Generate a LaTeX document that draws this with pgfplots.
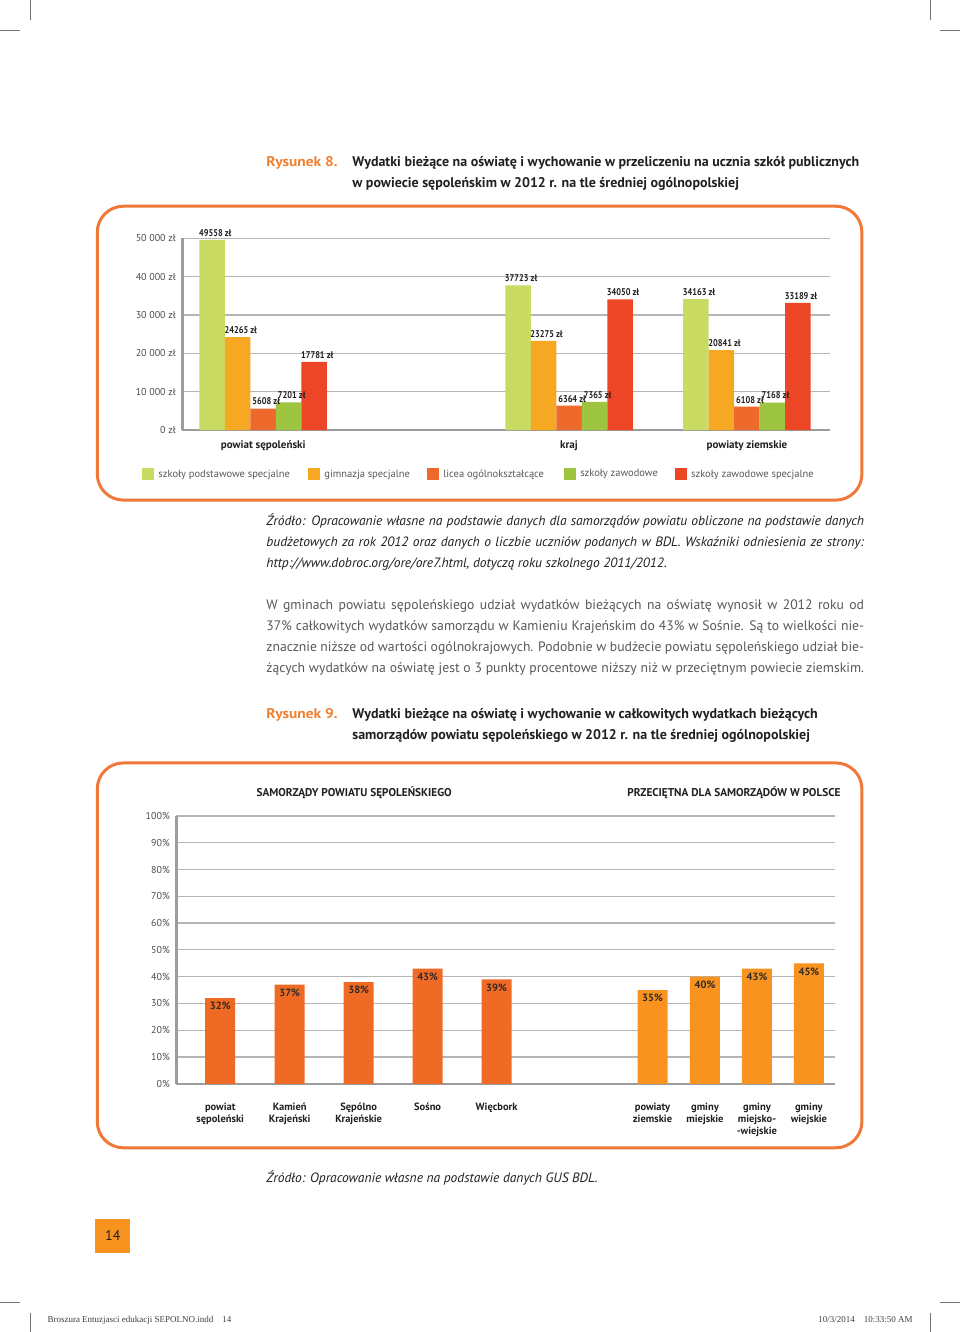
\documentclass[border=0pt]{standalone}
\usepackage{graphicx}
\usepackage{pgfplots}
\pgfplotsset{compat=1.18}
\usepackage{fontspec}
\setmainfont{PT Sans}
\newfontfamily\condfont[FakeStretch=0.85]{PT Sans}
\newfontfamily\serffont{Liberation Serif}
\definecolor{cGreenL}{HTML}{C9DB62}
\definecolor{cOrange}{HTML}{F7A823}
\definecolor{cDkOr}{HTML}{EE6A2C}
\definecolor{cGreen}{HTML}{9DC53F}
\definecolor{cRed}{HTML}{EC4627}
\definecolor{cFrame}{HTML}{F0793A}
\definecolor{cBarA}{HTML}{EF6B25}
\definecolor{cBarB}{HTML}{F7931E}
\definecolor{cGrid}{HTML}{B5B5B5}
\definecolor{cAxis}{HTML}{9C9C9C}
\definecolor{cRys}{HTML}{F08030}
\definecolor{cTitle}{HTML}{231F20}
\definecolor{cBody}{HTML}{58595B}
\definecolor{cTick}{HTML}{4D4D4D}
\newcommand{\rys}[1]{\scalebox{1.1}[1]{\fontsize{14}{16}\selectfont\bfseries #1}}
\begin{document}
\begin{tikzpicture}[x=1pt,y=1pt]
\path[fill=white] (0,0) rectangle (960,-1332);
% crop marks
\begin{scope}[draw=black!55, line width=0.7pt]
\draw (30,0)--(30,-20); \draw (0,-30)--(20,-30);
\draw (930,0)--(930,-20); \draw (940,-30)--(960,-30);
\draw (0,-1303)--(20,-1303); \draw (940,-1303)--(960,-1303);
\draw (30,-1313)--(30,-1332); \draw (930,-1313)--(930,-1332);
\end{scope}
% Title 8
\node[anchor=base west, inner sep=0, text=cRys] at (266,-166.5) {\rys{Rysunek 8.}};
\node[anchor=base west, inner sep=0, text=cTitle] at (352,-166.5) {\fontsize{14}{16}\selectfont\bfseries Wydatki bieżące na oświatę i wychowanie w przeliczeniu na ucznia szkół publicznych};
\node[anchor=base west, inner sep=0, text=cTitle] at (352,-187.5) {\fontsize{14}{16}\selectfont\bfseries w powiecie sępoleńskim w 2012 r. na tle średniej ogólnopolskiej};
% frame 1
\draw[cFrame, line width=3pt, rounded corners=26pt] (97,-206) rectangle (862,-500);
\begin{axis}[at={(182pt,-430pt)}, anchor=south west, scale only axis,
  width=648pt, height=192pt, xmin=182, xmax=830, ymin=0, ymax=50000,
  scaled y ticks=false,
  ybar=0pt, bar width=25.5pt,
  axis lines*=left, clip=false,
  x axis line style={cAxis, line width=1.5pt},
  y axis line style={cAxis, line width=3.5pt},
  ymajorgrids, grid style={cGrid, line width=1.2pt},
  major tick length=0pt,
  ytick={0,10000,20000,30000,40000,50000},
  yticklabels={0 zł,10 000 zł,20 000 zł,30 000 zł,40 000 zł,50 000 zł},
  yticklabel style={font=\fontsize{10}{11}\selectfont, text=cTick, xshift=-3pt},
  xtick={263,569,747},
  xticklabels={powiat sępoleński,kraj,powiaty ziemskie},
  xticklabel style={font=\fontsize{11}{12}\selectfont\bfseries, text=cTitle, yshift=-7pt},
  /pgf/number format/fixed, /pgf/number format/precision=0, /pgf/number format/1000 sep={}, /pgf/number format/assume math mode=true,
  nodes near coords={\pgfmathprintnumber{\pgfplotspointmeta} zł},
  every node near coord/.append style={font=\condfont\fontsize{9.8}{10}\selectfont\bfseries, text=cTitle, xshift=3pt},
  legend columns=5,
  legend image code/.code={\fill[#1] (0pt,-6pt) rectangle (12pt,6pt);},
  legend style={draw=none, fill=none, at={(-0.0617,-0.229)}, anchor=west, inner sep=0pt,
    nodes={inner sep=0pt, font=\fontsize{10.5}{12}\selectfont, text=cBody},
    /tikz/every even column/.append style={column sep=4pt}},
]
\addplot[fill=cGreenL, draw=none] coordinates {(263,49558) (569,37723) (747,34163)};
\addlegendentry{\makebox[150pt][l]{\hspace*{4pt}szkoły podstawowe specjalne}}
\addplot[fill=cOrange, draw=none] coordinates {(263,24265) (569,23275) (747,20841)};
\addlegendentry{\makebox[103pt][l]{\hspace*{4pt}gimnazja specjalne}}
\addplot[fill=cDkOr, draw=none] coordinates {(263,5608) (569,6364) (747,6108)};
\addlegendentry{\makebox[121pt][l]{\hspace*{4pt}licea ogólnokształcące}}
\addplot[fill=cGreen, draw=none] coordinates {(263,7201) (569,7365) (747,7168)};
\addlegendentry{\makebox[95pt][l]{\hspace*{4pt}szkoły zawodowe}}
\addplot[fill=cRed, draw=none] coordinates {(263,17781) (569,34050) (747,33189)};
\addlegendentry{\hspace*{4pt}szkoły zawodowe specjalne}
\end{axis}
% source text
\begin{scope}[every node/.style={anchor=base west, inner sep=0, text=cTitle, font=\fontsize{13.5}{16}\selectfont\itshape}]
\node at (266,-525) {\hbox to 598pt{Źródło: Opracowanie własne na podstawie danych dla samorządów powiatu obliczone na podstawie danych}};
\node at (266,-546) {\hbox to 598pt{budżetowych za rok 2012 oraz danych o liczbie uczniów podanych w BDL. Wskaźniki odniesienia ze strony:}};
\node at (266,-567) {http://www.dobroc.org/ore/ore7.html, dotyczą roku szkolnego 2011/2012.};
\end{scope}
% body text
\begin{scope}[every node/.style={anchor=base west, inner sep=0, text=cBody, font=\fontsize{13.7}{16}\selectfont}]
\node at (266,-609) {\hbox to 598pt{W gminach powiatu sępoleńskiego udział wydatków bieżących na oświatę wynosił w 2012 roku od}};
\node at (266,-630) {\hbox to 598pt{37\% całkowitych wydatków samorządu w Kamieniu Krajeńskim do 43\% w Sośnie. Są to wielkości nie-}};
\node at (266,-651) {\hbox to 598pt{znacznie niższe od wartości ogólnokrajowych. Podobnie w budżecie powiatu sępoleńskiego udział bie-}};
\node at (266,-672) {\hbox to 598pt{żących wydatków na oświatę jest o 3 punkty procentowe niższy niż w przeciętnym powiecie ziemskim.}};
\end{scope}
% Title 9
\node[anchor=base west, inner sep=0, text=cRys] at (266,-718.5) {\rys{Rysunek 9.}};
\node[anchor=base west, inner sep=0, text=cTitle] at (352,-718.5) {\fontsize{14}{16}\selectfont\bfseries Wydatki bieżące na oświatę i wychowanie w całkowitych wydatkach bieżących};
\node[anchor=base west, inner sep=0, text=cTitle] at (352,-739.5) {\fontsize{14}{16}\selectfont\bfseries samorządów powiatu sępoleńskiego w 2012 r. na tle średniej ogólnopolskiej};
% frame 2
\draw[cFrame, line width=3pt, rounded corners=26pt] (97,-763) rectangle (862,-1148);
\node[anchor=base, inner sep=0, text=cTitle] at (354,-797) {\fontsize{11.3}{12}\selectfont\bfseries SAMORZĄDY POWIATU SĘPOLEŃSKIEGO};
\node[anchor=base, inner sep=0, text=cTitle] at (734,-797) {\fontsize{11.3}{12}\selectfont\bfseries PRZECIĘTNA DLA SAMORZĄDÓW W POLSCE};
\begin{axis}[at={(176pt,-1084pt)}, anchor=south west, scale only axis,
  width=659pt, height=268pt, xmin=176, xmax=835, ymin=0, ymax=100,
  ybar, bar width=30pt,
  axis lines*=left, clip=false,
  x axis line style={cAxis, line width=1.5pt},
  y axis line style={cAxis, line width=3.5pt},
  ymajorgrids, grid style={cGrid, line width=1.2pt},
  major tick length=0pt,
  ytick={0,10,...,100},
  yticklabels={0\%,10\%,20\%,30\%,40\%,50\%,60\%,70\%,80\%,90\%,100\%},
  yticklabel style={font=\fontsize{10}{11}\selectfont, text=cTick, xshift=-3pt},
  xtick={220,289.5,358.5,427.5,496.5,652.5,705,757,809},
  xticklabels={powiat\\sępoleński,Kamień\\Krajeński,Sępólno\\Krajeńskie,Sośno,Więcbork,powiaty\\ziemskie,gminy\\miejskie,gminy\\miejsko-\\-wiejskie,gminy\\wiejskie},
  xticklabel style={font=\fontsize{10.5}{12}\selectfont\bfseries, text=cTitle, align=center, yshift=-16pt},
  /pgf/number format/fixed, /pgf/number format/precision=0, /pgf/number format/assume math mode=true,
  nodes near coords={\pgfmathprintnumber{\pgfplotspointmeta}\%},
  every node near coord/.append style={font=\fontsize{10.5}{12}\selectfont\bfseries, text=cTitle!90!brown, yshift=-15.5pt},
]
\addplot[fill=cBarA, draw=none, bar shift=0pt] coordinates {(220,32) (289.5,37) (358.5,38) (427.5,43) (496.5,39)};
\addplot[fill=cBarB, draw=none, bar shift=0pt] coordinates {(652.5,35) (705,40) (757,43) (809,45)};
\end{axis}
% source 2
\node[anchor=base west, inner sep=0, text=cTitle] at (266,-1182.5) {\fontsize{13.5}{16}\selectfont\itshape Źródło: Opracowanie własne na podstawie danych GUS BDL.};
% page number
\fill[cBarB] (95,-1219) rectangle (130,-1253);
\node[inner sep=0, text=cTitle] at (112.5,-1236) {\fontsize{14}{16}\selectfont 14};
% footer
\node[anchor=base west, inner sep=0, text=black!75] at (47,-1323) {\serffont\fontsize{9}{10}\selectfont Broszura Entuzjasci edukacji SEPOLNO.indd\quad 14};
\node[anchor=base east, inner sep=0, text=black!75] at (913,-1323) {\serffont\fontsize{9}{10}\selectfont 10/3/2014\quad 10:33:50 AM};
\end{tikzpicture}
\end{document}
